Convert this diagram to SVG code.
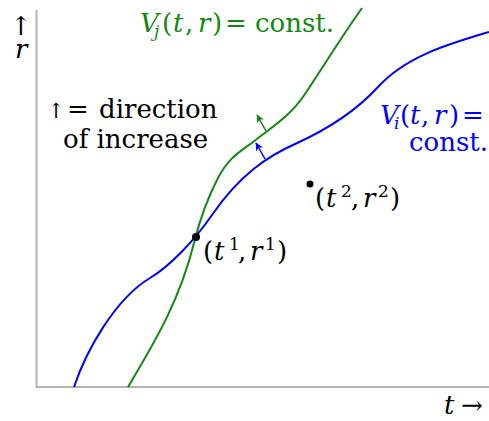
<svg xmlns="http://www.w3.org/2000/svg" width="489" height="421" viewBox="0 0 489 421">
<style>
text{font-family:"DejaVu Serif","Liberation Serif",serif;font-size:26px;fill:#000}
.it{font-style:italic}
.sub{font-size:17px;font-style:italic}
.sup{font-size:17px}
.g{fill:#118811}
.b{fill:#0000ff}
.axis{stroke:#b3b3b3;stroke-width:2;fill:none}
.curve{fill:none;stroke-width:2}
</style>
<defs>
<marker id="ag" markerUnits="userSpaceOnUse" markerWidth="9" markerHeight="8" refX="7.5" refY="4" orient="auto"><path d="M0,0 L8,4 L0,8 L2.2,4 z" fill="#118811"/></marker>
<marker id="ab" markerUnits="userSpaceOnUse" markerWidth="9" markerHeight="8" refX="7.5" refY="4" orient="auto"><path d="M0,0 L8,4 L0,8 L2.2,4 z" fill="#0000ff"/></marker>
</defs>
<g id="axes">
<path class="axis" d="M36.5,10 V387 H489"/>
<text x="21" y="35" text-anchor="middle">↑</text>
<text class="it" x="15" y="58">r</text>
<text class="it" x="444" y="414">t</text>
<text x="461" y="414">→</text>
</g>
<g id="connectors">
<path id="curve-i" class="curve" stroke="#0000ff" d="M74,387 C86,351 115,299 150,278 C170,266 194,241 212,215 C240,174.4 268,156 295,144 C325,130.5 356,111 378,87 C406,56 449,44 489,32"/>
<path id="curve-j" class="curve" stroke="#118811" d="M128,387 C153,344.5 179,303 194,243 C201,215 210,193.2 218,178 C230,155.2 242,150.9 255,140.5 C272,126.9 290,116.5 305,94 C323,67 343,34.6 362,8"/>
<line x1="266" y1="131" x2="257" y2="115" stroke="#118811" stroke-width="1.5" marker-end="url(#ag)"/>
<line x1="265" y1="159" x2="256" y2="143" stroke="#0000ff" stroke-width="1.5" marker-end="url(#ab)"/>
</g>
<g id="label-j">
<text class="g"><tspan class="it" x="140" y="32">V</tspan><tspan class="sub" x="154" y="37">j</tspan><tspan x="162" y="32">(</tspan><tspan class="it" x="173" y="32">t</tspan><tspan x="185" y="32">,</tspan><tspan class="it" x="198" y="32">r</tspan><tspan x="212" y="32">)</tspan><tspan x="225" y="32">=</tspan><tspan x="255" y="32">const.</tspan></text>
</g>
<g id="label-i">
<text class="b"><tspan class="it" x="380" y="124">V</tspan><tspan class="sub" x="394" y="129">i</tspan><tspan x="400" y="124">(</tspan><tspan class="it" x="410" y="124">t</tspan><tspan x="421" y="124">,</tspan><tspan class="it" x="434" y="124">r</tspan><tspan x="449" y="124">)</tspan><tspan x="462" y="124">=</tspan></text>
<text class="b" x="488" y="151" text-anchor="end">const.</text>
</g>
<g id="legend">
<text x="56" y="118" text-anchor="middle" style="font-size:21px">↑</text>
<text x="67" y="118">=</text>
<text x="99" y="118">direction</text>
<text x="63" y="148">of increase</text>
</g>
<g id="point-1">
<circle cx="196" cy="237" r="4"/>
<text><tspan x="203" y="260">(</tspan><tspan class="it" x="214" y="260">t</tspan><tspan class="sup" x="229" y="250">1</tspan><tspan x="238" y="260">,</tspan><tspan class="it" x="250" y="260">r</tspan><tspan class="sup" x="265" y="250">1</tspan><tspan x="277" y="260">)</tspan></text>
</g>
<g id="point-2">
<circle cx="310" cy="184" r="3.5"/>
<text><tspan x="315" y="207">(</tspan><tspan class="it" x="326" y="207">t</tspan><tspan class="sup" x="341" y="197">2</tspan><tspan x="351" y="207">,</tspan><tspan class="it" x="363" y="207">r</tspan><tspan class="sup" x="378" y="197">2</tspan><tspan x="390" y="207">)</tspan></text>
</g>
</svg>
